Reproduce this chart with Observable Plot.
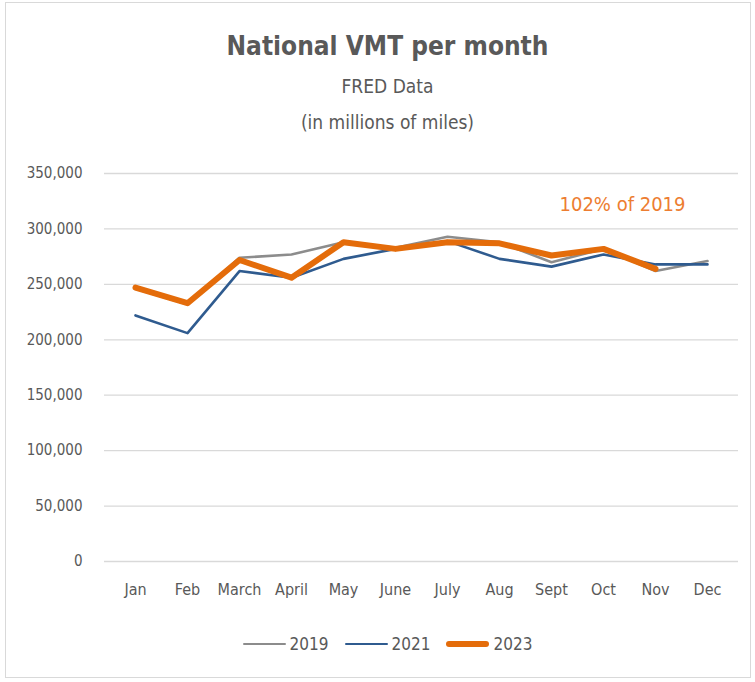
<!DOCTYPE html>
<html>
<head>
<meta charset="utf-8">
<script src="https://cdn.jsdelivr.net/npm/d3@7"></script>
<script src="https://cdn.jsdelivr.net/npm/@observablehq/plot@0.6"></script>
<style>
  html, body { margin: 0; padding: 0; background: #fff; }
  body { width: 755px; height: 682px; position: relative; overflow: hidden;
         font-family: "Liberation Sans Narrow", "DejaVu Sans Condensed", sans-serif; color: #595959; }
  #frame { position: absolute; left: 5px; top: 2px; width: 746px; height: 676px;
           border: 1px solid #d9d9d9; box-sizing: border-box; }
  .t { position: absolute; left: 0; width: 775px; text-align: center; white-space: nowrap; }
  #title { top: 31px; font-size: 26px; font-weight: bold; }
  #sub1 { top: 75px; font-size: 19px; }
  #sub2 { top: 111px; font-size: 19px; }
  #chart { position: absolute; left: 0; top: 150px; }
  #legend { position: absolute; top: 634px; left: 0; width: 775px; display: flex; justify-content: center;
            gap: 16px; font-size: 17px; }
  .item { display: flex; align-items: center; gap: 4px; }
  .sw { display: inline-block; width: 43px; border-radius: 4px; }
</style>
</head>
<body>
<div id="frame"></div>
<div class="t" id="title">National VMT per month</div>
<div class="t" id="sub1">FRED Data</div>
<div class="t" id="sub2">(in millions of miles)</div>
<div id="chart"></div>
<div id="legend"></div>
<script>
const months = ["Jan","Feb","March","April","May","June","July","Aug","Sept","Oct","Nov","Dec"];
const v2019 = [246, 232, 274, 277, 288, 283, 293, 288, 270, 282, 262, 271];
const v2021 = [222, 206, 262, 256, 273, 282, 289, 273, 266, 277, 268, 268];
const v2023 = [247, 233, 272, 256, 288, 282, 288, 287, 276, 282, 264, null];
const yTicks = [0, 50000, 100000, 150000, 200000, 250000, 300000, 350000];
const seriesNames = ["2019", "2021", "2023"];
const seriesColors = ["#8c8c8c", "#2f5b8f", "#e46c0a"];
const seriesWidths = [2.6, 2.6, 6];
const annotation = [{month: "Oct", value: 322000, text: "102% of 2019"}];

const seriesValues = [v2019, v2021, v2023];
const rows = [];
seriesNames.forEach((s, i) => {
  months.forEach((m, j) => {
    const v = seriesValues[i][j];
    if (v != null) rows.push({series: s, month: m, value: v * 1000});
  });
});

const fmt = d3.format(",");
const plot = Plot.plot({
  width: 755,
  height: 470,
  marginTop: 23,
  marginBottom: 59,
  marginLeft: 104,
  marginRight: 17,
  style: {fontFamily: '"Liberation Sans Narrow", "DejaVu Sans Condensed", sans-serif', color: "#595959", background: "transparent"},
  x: {type: "point", domain: months, padding: 0.5, label: null},
  y: {domain: [0, 350000], ticks: yTicks, label: null},
  marks: [
    Plot.gridY(yTicks, {stroke: "#d9d9d9", strokeOpacity: 1, strokeWidth: 1.3}),
    Plot.axisY(yTicks, {tickSize: 0, tickPadding: 22, tickFormat: fmt, fontSize: 15, fill: "#595959"}),
    Plot.axisX({tickSize: 0, tickPadding: 22, fontSize: 16, fill: "#595959"}),
    ...seriesNames.map((s, i) => Plot.line(rows.filter(r => r.series === s), {
      x: "month", y: "value", stroke: seriesColors[i], strokeWidth: seriesWidths[i],
      strokeLinejoin: "round", strokeLinecap: "round"
    })),
    Plot.text(annotation, {x: "month", y: "value", text: "text", dx: 19, fill: "#ed7d31", fontSize: 20})
  ]
});
document.getElementById("chart").appendChild(plot);

const legend = document.getElementById("legend");
seriesNames.forEach((s, i) => {
  const it = document.createElement("div");
  it.className = "item";
  const sw = document.createElement("span");
  sw.className = "sw";
  sw.style.height = seriesWidths[i] + "px";
  sw.style.background = seriesColors[i];
  it.appendChild(sw);
  const lb = document.createElement("span");
  lb.textContent = s;
  it.appendChild(lb);
  legend.appendChild(it);
});
</script>
</body>
</html>
